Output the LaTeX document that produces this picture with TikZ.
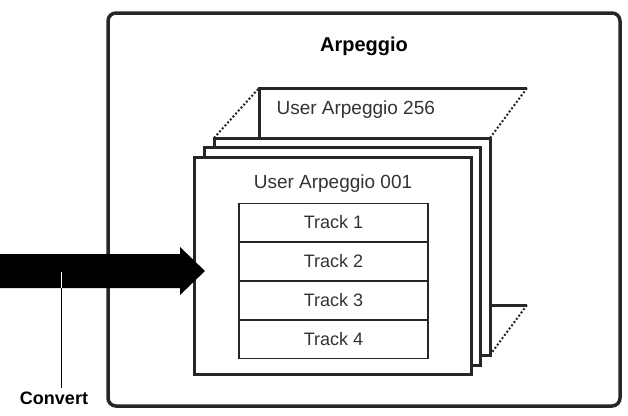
\documentclass[tikz,border=0pt]{standalone}
\usepackage{fontspec}
\setmainfont{Liberation Sans}
\usetikzlibrary{positioning}
\begin{document}
\begin{tikzpicture}[x=1pt,y=-1pt,
  page/.style={draw=black!85,line width=3pt,fill=white},
  dot/.style={line width=2pt,dotted,draw=black!85},
  row/.style={draw=black!85,line width=1.2pt,minimum width=189pt,minimum height=37.75pt,inner sep=0pt,font=\fontsize{18}{18}\selectfont,text=black!80},
  lbl/.style={font=\fontsize{19}{19}\selectfont,text=black!80}]
\useasboundingbox (0,0) rectangle (628,415);
\draw[line width=3.5pt,rounded corners=8pt,draw=black!85] (108,13) rectangle (620,406);
\node[font=\bfseries\fontsize{20}{20}\selectfont] (title) at (364,46) {Arpeggio};
% back page
\draw[page] (527,88) -- (259,88) -- (259,138);
\draw[page] (490,305) -- (527,305);
\draw[dot] (214,138) -- (259,88);
\draw[dot] (490,138) -- (527,88);
\draw[dot] (490,355) -- (527,305);
\node[lbl,anchor=west] (u256) at (273,110) {User Arpeggio 256};
\draw[page] (214,138) rectangle (490,355);
\draw[page] (204,147) rectangle (480,365);
\draw[page] (194,157) rectangle (471,374);
\node[lbl] (u001) at (333,184) {User Arpeggio 001};
\node[row] (t1) at (333.5,222.4) {Track 1};
\node[row,below=0pt of t1] (t2) {Track 2};
\node[row,below=0pt of t2] (t3) {Track 3};
\node[row,below=0pt of t3] (t4) {Track 4};
% arrow
\fill[black] (0,254) -- (180,254) -- (180,247) -- (205,271) -- (180,295) -- (180,288) -- (0,288) -- cycle;
\coordinate (c1) at (61,272);
\node[font=\bfseries\fontsize{18}{18}\selectfont] (conv) at (54,398) {Convert};
\draw[draw=white,line width=0.8pt] (c1) -- (61,288);
\draw[line width=0.6pt] (61,288) -- (conv.north -| c1);
\end{tikzpicture}
\end{document}
